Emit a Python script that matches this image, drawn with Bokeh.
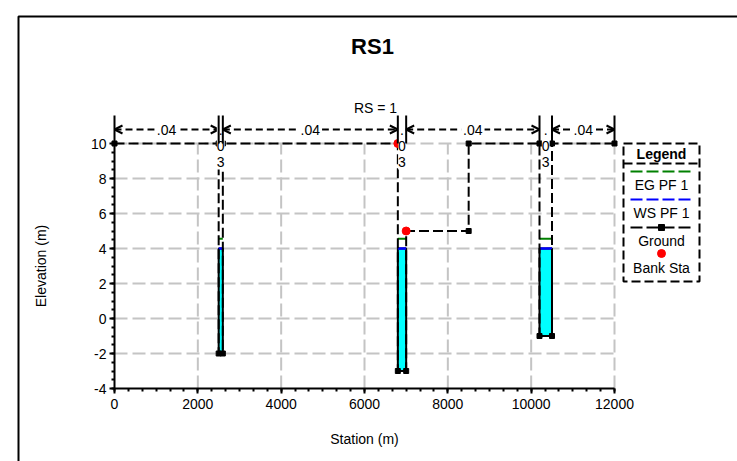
import numpy as np
from bokeh.plotting import figure
from bokeh.models import Range1d, FixedTicker, PrintfTickFormatter
from bokeh.embed import file_html
from bokeh.resources import INLINE
from bokeh.core.properties import value

# ---------------- data ----------------
station = [0, 2500, 2500, 2600, 2600, 6800, 6800, 7000, 7000, 8500, 8500,
           10200, 10200, 10500, 10500, 12000]
elevation = [10, 10, -2, -2, 10, 10, -3, -3, 5, 5, 10, 10, -1, -1, 10, 10]
bank_sta = [6800, 7000]
bank_elev = [10, 5]
ws_pf1 = 4.0
eg_pf1 = 4.56
n_breaks = [0, 2500, 2600, 6800, 7000, 10200, 10500, 12000]
n_values = [0.04, 0.03, 0.04, 0.03, 0.04, 0.03, 0.04]
x_ticks = [0, 2000, 4000, 6000, 8000, 10000, 12000]
y_ticks = [-4, -2, 0, 2, 4, 6, 8, 10]
title_text = "RS1"
rs_text = "RS = 1"
x_label = "Station (m)"
y_label = "Elevation (m)"
legend_title = "Legend"
legend_labels = ["EG PF 1", "WS PF 1", "Ground", "Bank Sta"]

# ---------------- layout (pixel placement of the data area) ----------------
W, H = 737, 461
FL = 114          # pixel of x = 0
PX_XMAX = 614     # pixel of x = 12000
PY_10 = 143       # pixel of y = 10
PY_M4 = 388       # pixel of y = -4
PPX = (PX_XMAX - FL) / 12000.0
PPY = (PY_M4 - PY_10) / 14.0


def dx(px):
    return (px - FL) / PPX


def dy(py):
    return 10 + (PY_10 - py) / PPY


FONT = value("Liberation Sans")

p = figure(width=W, height=H, title=None,
           x_range=Range1d(dx(0), dx(W)), y_range=Range1d(dy(H), dy(0)),
           output_backend="svg", toolbar_location=None,
           min_border_left=0, min_border_right=0, min_border_top=0,
           min_border_bottom=0)
p.outline_line_color = None
p.grid.visible = False
p.background_fill_color = "white"
p.border_fill_color = "white"

# axes (placed at the data origin)
for ax in (p.xaxis[0], p.yaxis[0]):
    ax.axis_line_width = 2
    ax.axis_line_color = "black"
    ax.major_tick_line_width = 2
    ax.minor_tick_line_width = 2
    ax.major_tick_line_color = "black"
    ax.minor_tick_line_color = "black"
    ax.major_tick_in = 0
    ax.major_tick_out = 5
    ax.minor_tick_in = 0
    ax.minor_tick_out = 3
    ax.major_label_text_font = "Liberation Sans"
    ax.major_label_text_font_size = "14px"
    ax.major_label_text_color = "black"
    ax.axis_label_text_font = "Liberation Sans"
    ax.axis_label_text_font_size = "14px"
    ax.axis_label_text_font_style = "normal"
    ax.axis_label_text_color = "black"
    ax.formatter = PrintfTickFormatter(format="%d")

p.xaxis.fixed_location = y_ticks[0]
p.xaxis.bounds = (x_ticks[0], x_ticks[-1])
p.xaxis.ticker = FixedTicker(ticks=x_ticks,
                             minor_ticks=list(np.linspace(x_ticks[0], x_ticks[-1], 37)))
p.xaxis.axis_label = x_label
p.xaxis.major_label_standoff = 5
p.xaxis.axis_label_standoff = 19

p.yaxis.fixed_location = x_ticks[0]
p.yaxis.bounds = (y_ticks[0], y_ticks[-1])
p.yaxis.ticker = FixedTicker(ticks=y_ticks,
                             minor_ticks=list(np.linspace(y_ticks[0], y_ticks[-1], 29)))
p.yaxis.axis_label = y_label
p.yaxis.major_label_standoff = 3
p.yaxis.axis_label_standoff = 39

# grid lines (bounded to the data area)
gx = x_ticks[1:]
p.segment(x0=gx, y0=[y_ticks[0]] * len(gx), x1=gx, y1=[y_ticks[-1]] * len(gx),
          line_color="#c4c4c4", line_width=2, line_dash="13 5")
gy = y_ticks[1:]
p.segment(x0=[x_ticks[0]] * len(gy), y0=gy, x1=[x_ticks[-1]] * len(gy), y1=gy,
          line_color="#c4c4c4", line_width=2, line_dash="13 5")


# water polygons below the water surface
def wet_polys(xs, ys, ws):
    pts = []
    for i in range(len(xs) - 1):
        x0, y0, x1, y1 = xs[i], ys[i], xs[i + 1], ys[i + 1]
        pts.append((x0, y0))
        if (y0 - ws) * (y1 - ws) < 0:
            t = (ws - y0) / (y1 - y0)
            pts.append((x0 + t * (x1 - x0), ws))
    pts.append((xs[-1], ys[-1]))
    polys, cur = [], []
    for (x, y) in pts:
        if y <= ws + 1e-9:
            cur.append((x, y))
        else:
            if len(cur) >= 3:
                polys.append(cur)
            cur = []
    if len(cur) >= 3:
        polys.append(cur)
    return polys


polys = wet_polys(station, elevation, ws_pf1)
pxs = [[q[0] for q in poly] for poly in polys]
pys = [[q[1] for q in poly] for poly in polys]
p.patches(pxs, pys, fill_color="#00ffff", line_color="black", line_width=2)
lefts = [min(a) for a in pxs]
rights = [max(a) for a in pxs]
p.segment(x0=lefts, y0=[eg_pf1] * len(lefts), x1=rights, y1=[eg_pf1] * len(lefts),
          line_color="#008000", line_width=2)
p.segment(x0=lefts, y0=[ws_pf1] * len(lefts), x1=rights, y1=[ws_pf1] * len(lefts),
          line_color="#0000ff", line_width=2.5)

# ground
p.line(station, elevation, line_color="black", line_width=2, line_dash="10 4")
p.scatter(station, elevation, marker="square", size=5, color="black")
# bank stations
p.scatter(bank_sta, bank_elev, marker="circle", size=8, color="red")

# Manning's n annotations
y_arrow = dy(129)
y_top = dy(115)
head_len = 8 / PPX
head_half = 4 / PPY
for i, nv in enumerate(n_values):
    a, b = n_breaks[i], n_breaks[i + 1]
    lab = ("%.2f" % nv).lstrip("0")
    mid = (a + b) / 2
    if (b - a) * PPX > 30:
        p.segment(x0=[a], y0=[y_arrow], x1=[b], y1=[y_arrow],
                  line_color="black", line_width=2, line_dash="7 4")
        p.multi_line(xs=[[a + head_len, a, a + head_len], [b - head_len, b, b - head_len]],
                     ys=[[y_arrow + head_half, y_arrow, y_arrow - head_half]] * 2,
                     line_color="black", line_width=2)
        p.text(x=[mid], y=[y_arrow], text=[lab], text_align="center",
               text_baseline="middle", text_font=FONT, text_font_size="14px",
               text_color="black", background_fill_color="white", padding=2)
    else:
        p.text(x=[mid], y=[dy(121)], text=["\n".join(lab)], text_align="center",
               text_baseline="top", text_font=FONT, text_font_size="14px",
               text_line_height=1.0, text_color="black",
               background_fill_color="white", padding=0)
p.segment(x0=n_breaks, y0=[10] * len(n_breaks), x1=n_breaks, y1=[y_top] * len(n_breaks),
          line_color="black", line_width=2)

# titles
p.text(x=[dx(372)], y=[dy(46)], text=[title_text], text_align="center",
       text_baseline="middle", text_font=FONT, text_font_size="22px",
       text_font_style="bold", text_color="black")
p.text(x=[dx(375)], y=[dy(107)], text=[rs_text], text_align="center",
       text_baseline="middle", text_font=FONT, text_font_size="14px",
       text_color="black")

# legend
LL, LR, LT, LB = 623, 699, 143, 281
p.quad(left=[dx(LL)], right=[dx(LR)], top=[dy(LT)], bottom=[dy(LB)],
       fill_color=None, line_color="black", line_width=2, line_dash="9 4")
p.segment(x0=[dx(LL)], y0=[dy(163)], x1=[dx(LR)], y1=[dy(163)],
          line_color="black", line_width=2, line_dash="9 4")
cx = dx(661)
p.text(x=[cx], y=[dy(153)], text=[legend_title], text_align="center",
       text_baseline="middle", text_font=FONT, text_font_size="14px",
       text_font_style="bold", text_color="black")
p.segment(x0=[dx(630)], y0=[dy(171)], x1=[dx(692)], y1=[dy(171)],
          line_color="#008000", line_width=2, line_dash="12 4")
p.segment(x0=[dx(630)], y0=[dy(199)], x1=[dx(692)], y1=[dy(199)],
          line_color="#0000ff", line_width=2, line_dash="12 4")
p.segment(x0=[dx(630)], y0=[dy(227)], x1=[dx(692)], y1=[dy(227)],
          line_color="black", line_width=2, line_dash="12 4")
p.scatter([cx], [dy(227)], marker="square", size=6, color="black")
p.scatter([cx], [dy(253)], marker="circle", size=8, color="red")
p.text(x=[cx] * 4, y=[dy(184.5), dy(212), dy(240), dy(267.5)], text=legend_labels,
       text_align="center", text_baseline="middle", text_font=FONT,
       text_font_size="14px", text_color="black")

# outer border (left and top edges of the picture frame)
p.line(x=[dx(18), dx(18), dx(W + 10)], y=[dy(H + 10), dy(16), dy(16)],
       line_color="black", line_width=2)

open("out.html", "w").write(file_html(p, INLINE))
